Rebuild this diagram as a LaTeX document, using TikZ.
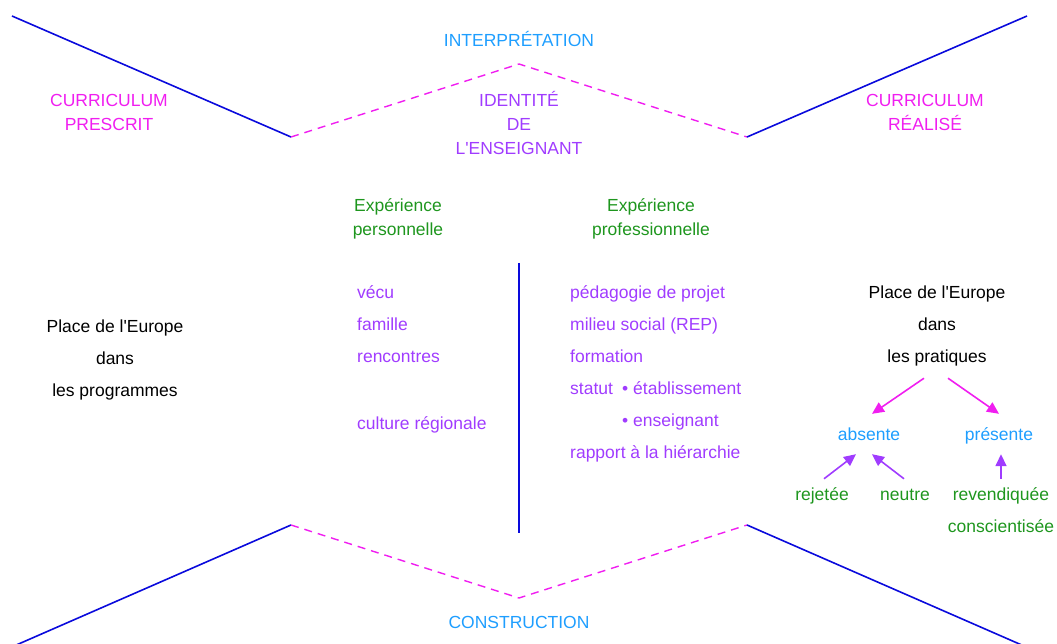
\documentclass[tikz,border=0pt]{standalone}
\usepackage{fontspec}
\setmainfont{Liberation Sans}[Ligatures=TeXOff]
\usetikzlibrary{arrows.meta}
\definecolor{lblue}{RGB}{30,158,255}
\definecolor{mag}{RGB}{240,30,240}
\definecolor{purp}{RGB}{160,60,255}
\definecolor{grn}{RGB}{30,150,30}
\definecolor{lineblue}{RGB}{10,10,220}
\tikzset{
  txt/.style={inner sep=0pt, font=\fontsize{17.5}{24}\selectfont, text height=13.5pt, text depth=0.5pt, align=center},
  wide/.style={font=\fontsize{17.5}{32}\selectfont},
  frame/.style={draw=lineblue, line width=1.6pt},
  dashln/.style={draw=mag, line width=1.4pt, dash pattern=on 8pt off 6pt},
  arr/.style={line width=1.6pt, -{Triangle[length=12pt,width=11pt]}},
}
\begin{document}
\begin{tikzpicture}[x=1pt,y=-1pt]
\useasboundingbox (0,0) rectangle (1057,644);
% V shapes
\coordinate (tl) at (12,16);
\coordinate (tlv) at (291,137);
\coordinate (tm) at (519,64);
\coordinate (trv) at (747,137);
\coordinate (tr) at (1027,16);
\coordinate (bl) at (14,646);
\coordinate (blv) at (291,525);
\coordinate (bm) at (519,598);
\coordinate (brv) at (747,525);
\coordinate (br) at (1024,646);
\draw[frame] (tl) -- (tlv);
\draw[dashln] (tlv) -- (tm) -- (trv);
\draw[frame] (trv) -- (tr);
\draw[frame] (bl) -- (blv);
\draw[dashln] (blv) -- (bm) -- (brv);
\draw[frame] (brv) -- (br);
\coordinate (vtop) at (519,263);
\coordinate (vbot) at (519,533);
\draw[frame] (vtop) -- (vbot);
% top / bottom labels (multi-line nodes are placed by their last line)
\node[txt, text=lblue] (interp) at (519,40) {INTERPRÉTATION};
\node[txt, text=lblue] (constr) at (519,622) {CONSTRUCTION};
\node[txt, text=mag] (cp) at (109,124) {CURRICULUM\\PRESCRIT};
\node[txt, text=mag] (cr) at (925,124) {CURRICULUM\\RÉALISÉ};
\node[txt, text=purp] (ident) at (519,148) {IDENTITÉ\\DE\\L'ENSEIGNANT};
\node[txt, text=grn] (expp) at (398,229) {Expérience\\personnelle};
\node[txt, text=grn] (exppro) at (651,229) {Expérience\\professionnelle};
% left column
\node[txt, text=purp, anchor=west] (vecu) at (357,292) {vécu};
\node[txt, text=purp, anchor=west] (fam) at (357,324) {famille};
\node[txt, text=purp, anchor=west] (renc) at (357,356) {rencontres};
\node[txt, text=purp, anchor=west] (cult) at (357,423) {culture régionale};
% right column
\node[txt, text=purp, anchor=west] (peda) at (570,292) {pédagogie de projet};
\node[txt, text=purp, anchor=west] (mil) at (570,324) {milieu social (REP)};
\node[txt, text=purp, anchor=west] (form) at (570,356) {formation};
\node[txt, text=purp, anchor=west] (stat) at (570,388) {statut};
\node[txt, text=purp, anchor=west] (etab) at (622,388) {• établissement};
\node[txt, text=purp, anchor=west] (ens) at (622,420) {• enseignant};
\node[txt, text=purp, anchor=west] (rapp) at (570,452) {rapport à la hiérarchie};
% place de l'Europe
\node[txt, wide] (prog) at (115,390) {Place de l'Europe\\dans\\les programmes};
\node[txt, wide] (prat) at (937,356) {Place de l'Europe\\dans\\les pratiques};
\node[txt, text=lblue] (abs) at (869,434) {absente};
\node[txt, text=lblue] (pres) at (999,434) {présente};
\node[txt, text=grn] (rej) at (822,494) {rejetée};
\node[txt, text=grn] (neu) at (905,494) {neutre};
\node[txt, text=grn] (rev) at (1001,494) {revendiquée};
\node[txt, text=grn] (consc) at (1001,526) {conscientisée};
% arrows
\draw[arr, mag] ([xshift=-13pt,yshift=-15pt]prat.south) -- ([xshift=3pt,yshift=13pt]abs.north);
\draw[arr, mag] ([xshift=11pt,yshift=-15pt]prat.south) -- ([xshift=0pt,yshift=13pt]pres.north);
\draw[arr, purp] ([xshift=2pt,yshift=8pt]rej.north) -- ([xshift=-13pt,yshift=-13pt]abs.south);
\draw[arr, purp] ([xshift=-1pt,yshift=8pt]neu.north) -- ([xshift=3pt,yshift=-13pt]abs.south);
\draw[arr, purp] ([yshift=8pt]rev.north) -- ([xshift=2pt,yshift=-13pt]pres.south);
\end{tikzpicture}
\end{document}
